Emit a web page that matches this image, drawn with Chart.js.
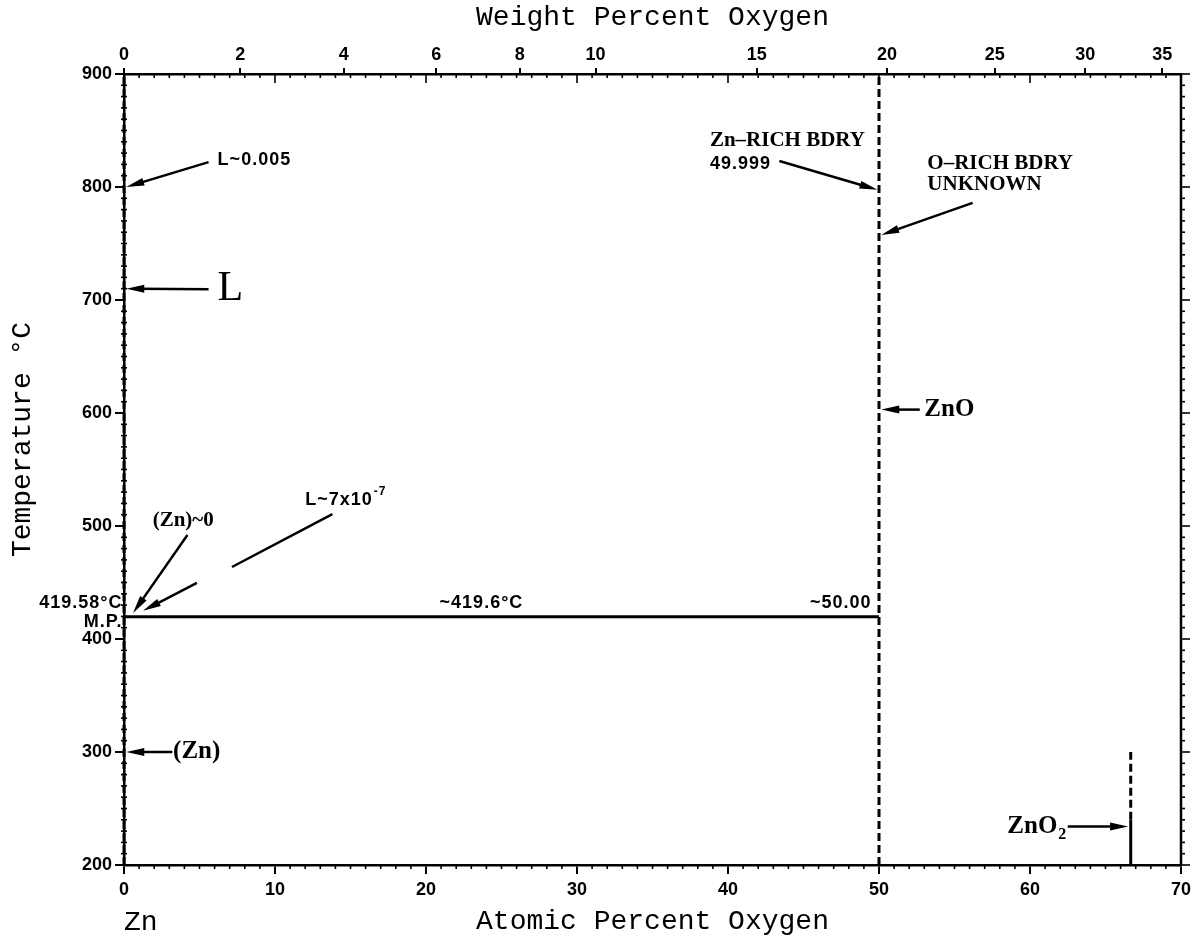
<!DOCTYPE html>
<html>
<head>
<meta charset="utf-8">
<script src="https://cdn.jsdelivr.net/npm/chart.js@4.4.1/dist/chart.umd.min.js"></script>
<style>
  html, body { margin: 0; padding: 0; background: #fff; }
</style>
</head>
<body>
<canvas id="c" width="1197" height="938"></canvas>
<script>
// axis ticks
const atomicTicks = [0, 10, 20, 30, 40, 50, 60, 70];          // at.% O (bottom)
const weightTicks = [0, 2, 4, 6, 8, 10, 15, 20, 25, 30, 35];   // wt.% O (top)
const tempTicks = [200, 300, 400, 500, 600, 700, 800, 900];    // °C

// phase boundaries (at.% O, °C)
const znSide = [{ x: 0, y: 200 }, { x: 0, y: 900 }];
const monotectic = [{ x: 0, y: 419.6 }, { x: 50, y: 419.6 }];
const znoLine = [{ x: 50, y: 200 }, { x: 50, y: 900 }];
const zno2Solid = [{ x: 66.67, y: 200 }, { x: 66.67, y: 240 }];
const zno2Dashed = [{ x: 66.67, y: 240 }, { x: 66.67, y: 300 }];

// labels, anchored in data coordinates
const sansLabels = [
  { text: 'L~0.005', x: 6.2, t: 824 },
  { text: '49.999', x: 38.8, t: 820 },
  { text: '~419.6°C', x: 20.9, t: 432 },
  { text: '~50.00', x: 49.5, t: 432, align: 'right' },
  { text: 'L~7x10', sup: '-7', x: 12.0, t: 523 },
  { text: '419.58°C', x: -0.1, t: 432, align: 'right' },
  { text: 'M.P.', x: -0.1, t: 415, align: 'right' }
];
const serifLabels = [
  { text: 'Zn\u2013RICH BDRY', x: 38.8, t: 841 },
  { text: 'O\u2013RICH BDRY', x: 53.2, t: 821 },
  { text: 'UNKNOWN', x: 53.2, t: 802 },
  { text: '(Zn)~0', x: 1.9, t: 505 }
];
const phaseLabels = [
  { text: 'ZnO', x: 53.0, t: 603 },
  { text: '(Zn)', x: 3.25, t: 300 },
  { text: 'ZnO', sub: '2', x: 58.5, t: 234 }
];
const bigLabels = [{ text: 'L', x: 6.2, t: 710 }];

// arrows: [fromX, fromT, toX, toT, head]
const arrows = [
  [5.6, 822, 0.15, 800, true],
  [5.6, 709.5, 0.15, 710, true],
  [43.4, 823, 49.9, 797.5, true],
  [56.2, 786, 50.15, 757.5, true],
  [52.7, 603, 50.15, 603, true],
  [3.2, 300, 0.15, 300, true],
  [62.5, 234, 66.5, 234, true],
  [4.2, 492, 0.6, 423, true],
  [13.8, 510.6, 7.15, 463.7, false],
  [4.83, 449.6, 1.26, 425, true]
];

const AT_O = 16.00, AT_ZN = 65.38;
function wtToAt(w) {
  const o = w / AT_O, z = (100 - w) / AT_ZN;
  return 100 * o / (o + z);
}

const tickFont = { family: 'Liberation Sans', size: 18, weight: 'bold' };
const titleFont = { family: 'Liberation Mono', size: 28, lineHeight: 1 };

const drawExtras = {
  id: 'drawExtras',
  afterDraw(chart) {
    const { ctx, chartArea: a, scales: { x, y } } = chart;
    const px = v => x.getPixelForValue(v);
    const py = v => y.getPixelForValue(v);
    const line = (x1, y1, x2, y2) => { ctx.beginPath(); ctx.moveTo(x1, y1); ctx.lineTo(x2, y2); ctx.stroke(); };
    ctx.save();
    ctx.strokeStyle = '#000';
    ctx.fillStyle = '#000';

    // right frame
    ctx.lineWidth = 2.5;
    line(a.right, a.top - 1, a.right, a.bottom + 1);

    // minor / inward ticks
    ctx.lineWidth = 1.6;
    for (let v = 0; v <= 70; v++) {
      const X = px(v), major = v % 10 === 0;
      if (!major) line(X, a.bottom, X, a.bottom + 4);
      if (v > 0 && v < 70) line(X, a.top, X, a.top + (major ? 9 : 4));
    }
    for (let t = 200; t <= 900; t += 10) {
      const Y = py(t), major = t % 100 === 0;
      if (!major) line(a.left - 3, Y, a.left + 3, Y);
      line(a.right, Y, a.right + (major ? 9 : 4), Y);
    }

    // arrows
    ctx.lineWidth = 2.5;
    arrows.forEach(([x1, t1, x2, t2, head]) => {
      const X1 = px(x1), Y1 = py(t1), X2 = px(x2), Y2 = py(t2);
      const ang = Math.atan2(Y2 - Y1, X2 - X1);
      const L = head ? 18 : 0, w = 4;
      line(X1, Y1, X2 - Math.cos(ang) * L * 0.6, Y2 - Math.sin(ang) * L * 0.6);
      if (head) {
        ctx.beginPath();
        ctx.moveTo(X2, Y2);
        ctx.lineTo(X2 - Math.cos(ang) * L - Math.sin(ang) * w, Y2 - Math.sin(ang) * L + Math.cos(ang) * w);
        ctx.lineTo(X2 - Math.cos(ang) * L + Math.sin(ang) * w, Y2 - Math.sin(ang) * L - Math.cos(ang) * w);
        ctx.closePath();
        ctx.fill();
      }
    });

    // text
    ctx.textBaseline = 'middle';
    const put = (list, font, small) => {
      list.forEach(l => {
        ctx.font = font;
        const base = ctx.measureText(l.text).width;
        ctx.font = small;
        const extra = l.sup || l.sub ? ctx.measureText(l.sup || l.sub).width + 1 : 0;
        let X = px(l.x);
        const Y = py(l.t);
        if (l.align === 'right') X -= base + extra;
        ctx.textAlign = 'left';
        ctx.font = font;
        ctx.fillText(l.text, X, Y);
        ctx.font = small;
        if (l.sup) ctx.fillText(l.sup, X + base + 1, Y - 8);
        if (l.sub) ctx.fillText(l.sub, X + base + 1, Y + 8);
      });
    };
    ctx.letterSpacing = '1px';
    put(sansLabels, 'bold 18px "Liberation Sans"', 'bold 12px "Liberation Sans"');
    ctx.letterSpacing = '0px';
    put(serifLabels, 'bold 21px "Liberation Serif"', 'bold 13px "Liberation Serif"');
    put(phaseLabels, 'bold 25px "Liberation Serif"', 'bold 16px "Liberation Serif"');
    put(bigLabels, '42px "Liberation Serif"', '20px "Liberation Serif"');

    // y title and composition end label
    ctx.font = '28px "Liberation Mono"';
    ctx.save();
    ctx.translate(23, (a.top + a.bottom) / 2 - 30);
    ctx.rotate(-Math.PI / 2);
    ctx.textAlign = 'center';
    ctx.fillText('Temperature °C', 0, 0);
    ctx.restore();
    ctx.textAlign = 'left';
    ctx.fillText('Zn', px(0), 923);
    ctx.restore();
  }
};

const lineSet = (data, dashed) => ({
  data, showLine: true, pointRadius: 0, borderColor: '#000', borderWidth: 3,
  borderDash: dashed ? [8, 4] : [], fill: false, clip: false
});

new Chart(document.getElementById('c'), {
  type: 'scatter',
  data: {
    datasets: [
      lineSet(znSide, true),
      lineSet(monotectic, false),
      lineSet(znoLine, true),
      lineSet(zno2Solid, false),
      lineSet(zno2Dashed, true)
    ]
  },
  options: {
    responsive: false,
    animation: false,
    layout: { padding: { left: 0, right: 16, top: 0, bottom: 0 } },
    plugins: { legend: { display: false }, tooltip: { enabled: false } },
    scales: {
      x: {
        type: 'linear', position: 'bottom', min: 0, max: 70,
        afterBuildTicks: s => { s.ticks = atomicTicks.map(v => ({ value: v })); },
        ticks: { font: tickFont, color: '#000', padding: 5, maxRotation: 0 },
        grid: { drawOnChartArea: false, tickLength: 9, color: '#000', lineWidth: 2 },
        border: { color: '#000', width: 2.5 },
        title: { display: true, text: 'Atomic Percent Oxygen', font: titleFont, color: '#000', padding: { top: 0, bottom: 2 } },
        afterFit: s => { s.height = 73; }
      },
      xTop: {
        type: 'linear', position: 'top', min: 0, max: 70,
        afterBuildTicks: s => { s.ticks = weightTicks.map(w => ({ value: wtToAt(w) })); },
        ticks: { font: tickFont, color: '#000', padding: 2, maxRotation: 0, autoSkip: false,
                 callback: (v, i) => String(weightTicks[i]) },
        grid: { drawOnChartArea: false, tickLength: 6, color: '#000', lineWidth: 2 },
        border: { color: '#000', width: 2.5 },
        title: { display: true, text: 'Weight Percent Oxygen', font: titleFont, color: '#000', padding: { top: 4, bottom: 0 } },
        afterFit: s => { s.height = 74; }
      },
      y: {
        type: 'linear', position: 'left', min: 200, max: 900,
        afterBuildTicks: s => { s.ticks = tempTicks.map(v => ({ value: v })); },
        ticks: { font: tickFont, color: '#000', padding: 3 },
        grid: { drawOnChartArea: false, tickLength: 9, color: '#000', lineWidth: 2 },
        border: { color: '#000', width: 2.5 },
        afterFit: s => { s.width = 124; }
      }
    }
  },
  plugins: [drawExtras]
});
</script>
</body>
</html>
